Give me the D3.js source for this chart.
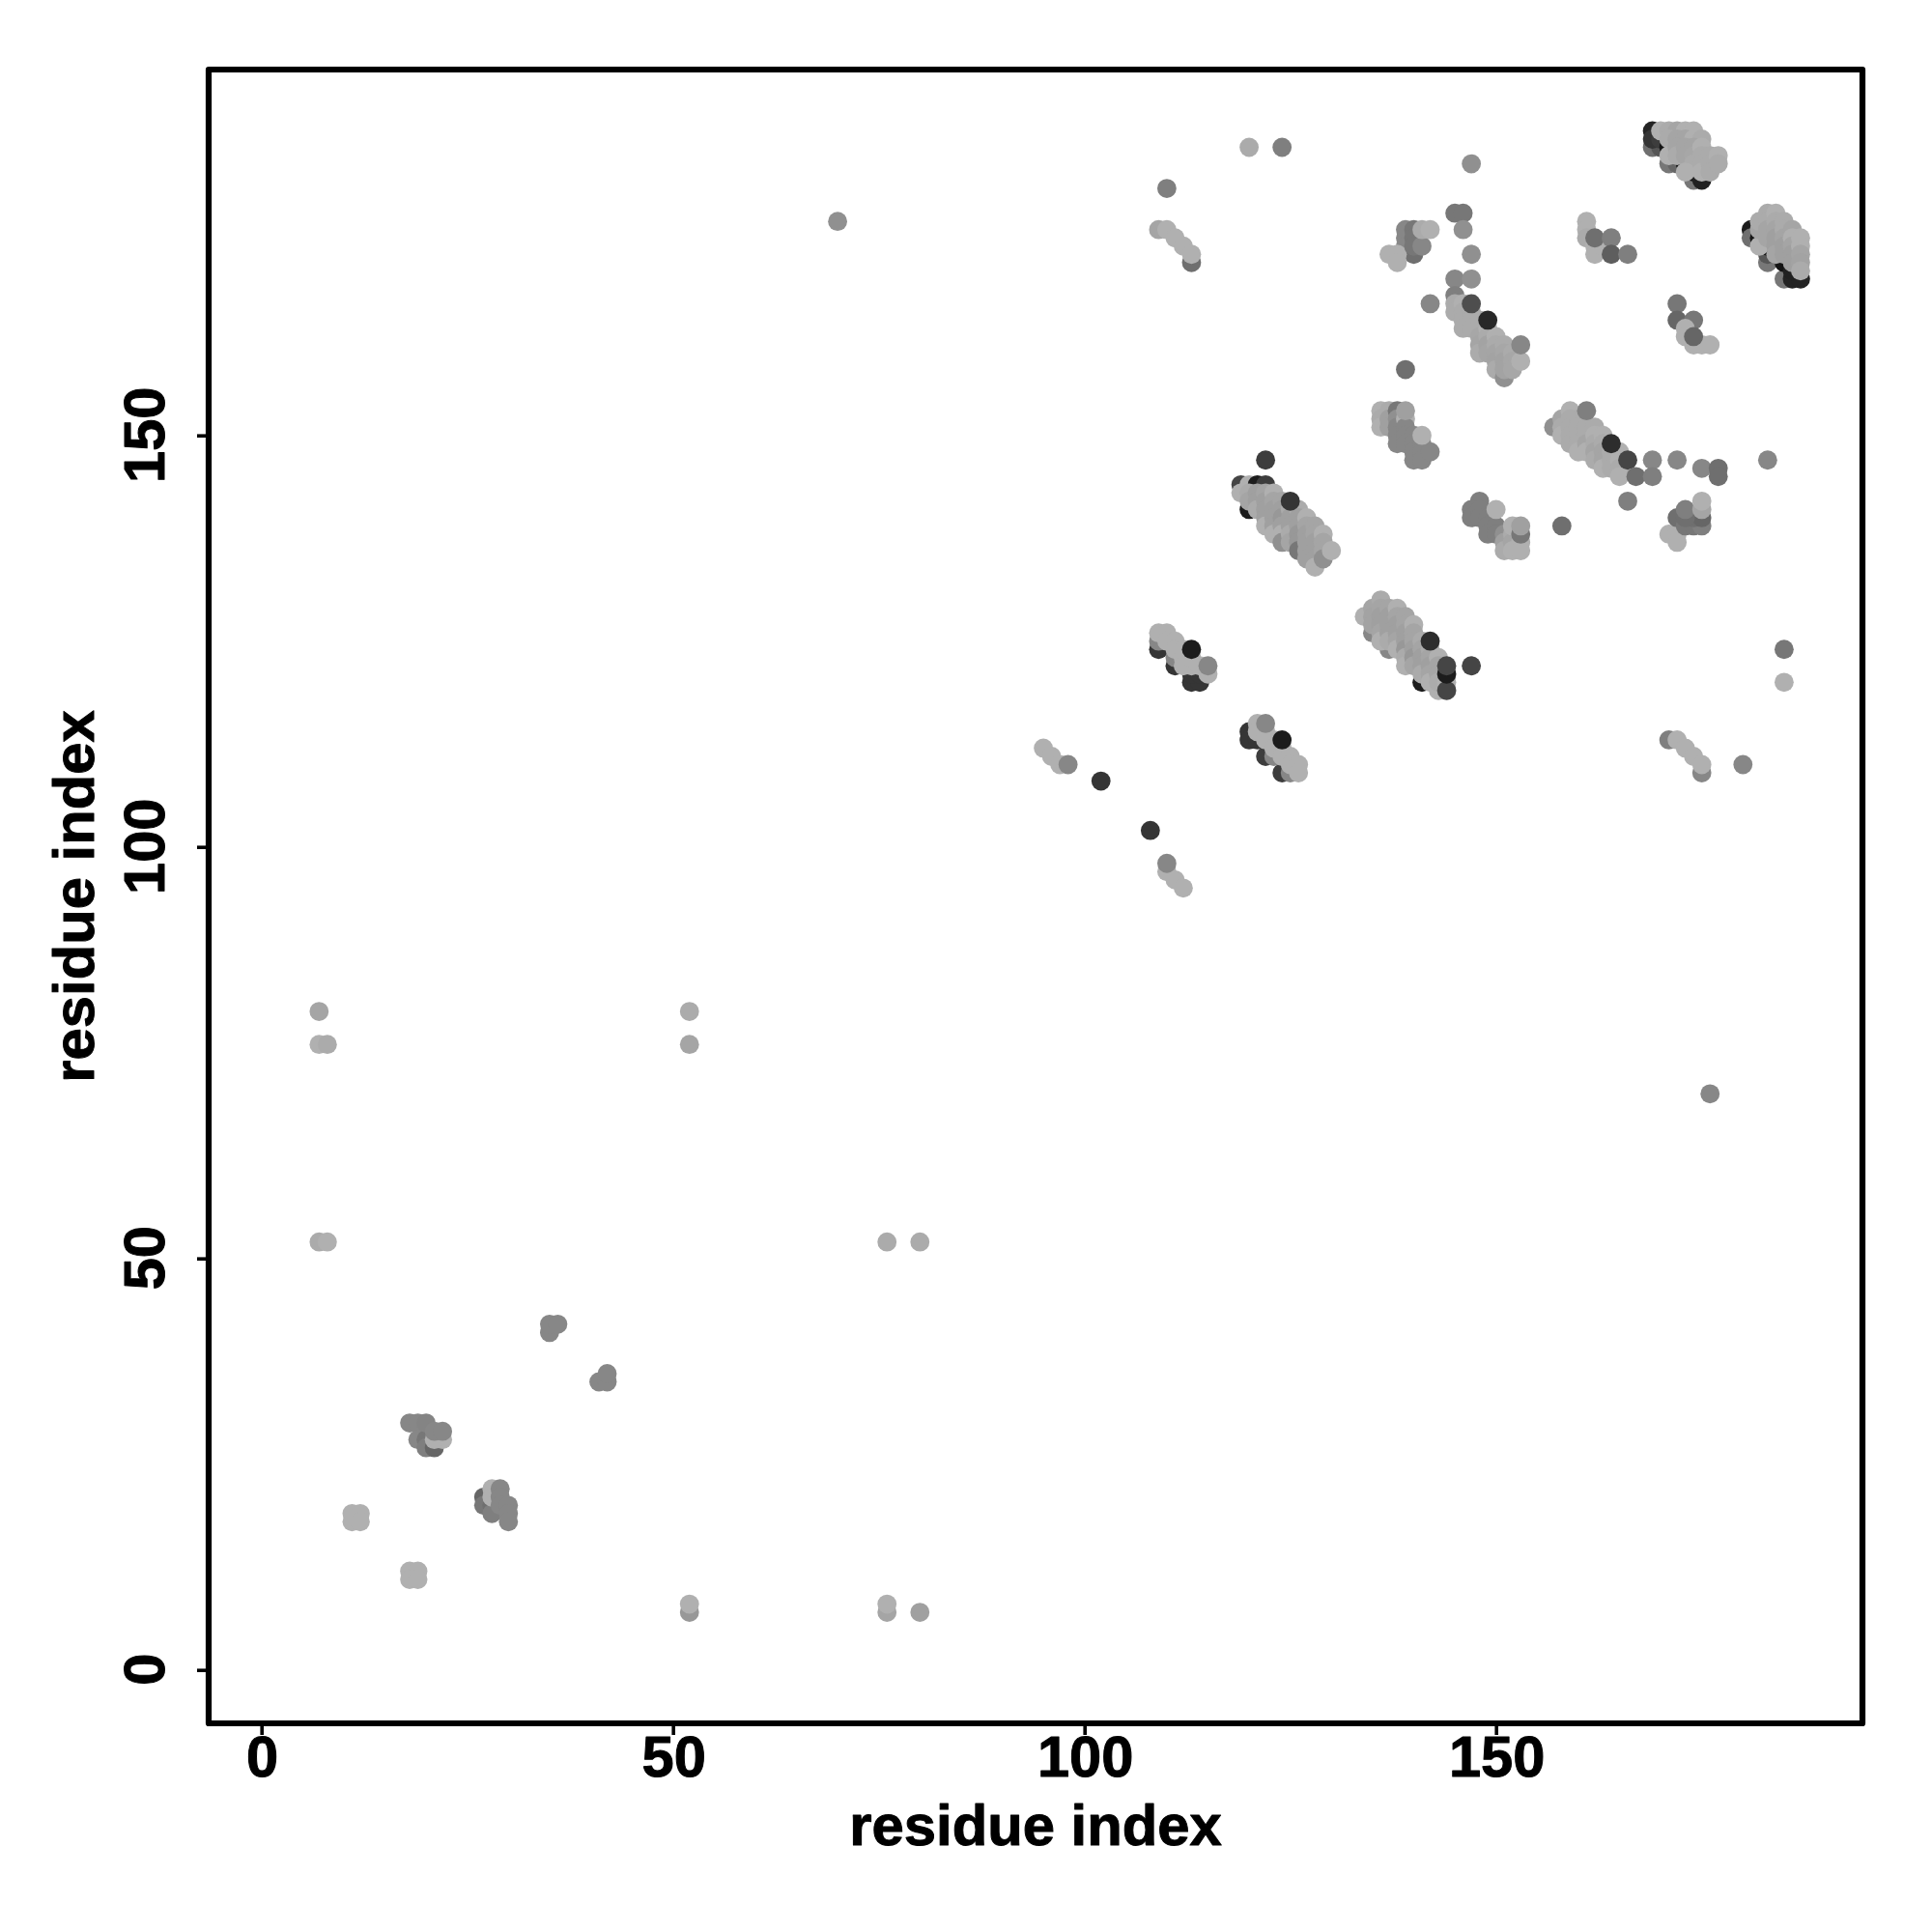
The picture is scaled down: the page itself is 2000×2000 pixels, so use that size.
<!DOCTYPE html>
<html><head><meta charset="utf-8">
<script src="https://cdn.jsdelivr.net/npm/d3@7"></script>
<style>html,body{margin:0;padding:0;background:#fff}svg{display:block}</style>
</head><body><div id="chart"></div>
<script>
// each contact: [residue index i, residue index j, shade score 0 (black) .. 1 (light)]
const tickValues=[0,50,100,150];
const axisTitle="residue index";
const lowerIsolated=[[7,80,.9],[7,76,1],[8,76,.95],[52,80,.95],[52,76,.9],[7,52,.95],[8,52,1],[76,52,.95],[80,52,.95],[52,7,.8],[52,8,1],[76,7,.9],[76,8,1],[80,7,.85]];
const lowerCluster1=[[35,41,.7],[35,42,.7],[36,42,.7],[41,35,.7],[42,35,.7],[42,36,.7]];
const lowerCluster2=[[18,30,.7],[19,30,.7],[20,29,.7],[19,28,.7],[20,28,.6],[20,27,.65],[21,27,.5],[22,28,1],[21,28,1],[20,30,.68],[21,29,.7],[22,29,.7]];
const lowerCluster3=[[27,21,.5],[27,20,.6],[28,20,.55],[28,19,.65],[28,22,1],[28,21,1],[29,22,.7],[29,21,.7],[29,20,.7],[30,20,.7],[30,19,.7],[30,18,.7]];
const lowerSquares=[[11,19,1],[12,19,1],[11,18,1],[12,18,1],[18,12,1],[19,12,1],[18,11,1],[19,11,1]];
const midIsolated=[[70,176,.75],[120,185,.95],[124,185,.65],[147,183,.75],[110,180,.65],[102,108,.2],[108,102,.2],[176,70,.7],[185,124,.6],[185,120,1],[180,110,.7]];
const strand109=[[113,171,.55],[109,175,.9],[110,175,1],[111,174,1],[112,173,1],[113,172,1]];
const strand95=[[95,112,1],[96,111,1],[97,110,1],[98,110,.7]];
const strand110=[[110,97,1],[111,96,1],[112,95,1],[110,98,.7]];
const strand171=[[171,113,.65],[172,113,1],[173,112,1],[174,111,1],[175,109,.7],[175,110,1]];
const clusterA=[[109,124,.2],[111,122,.2],[113,120,.2],[114,120,.2],[113,121,.2],[114,121,.2],[109,125,.7],[111,123,.7],[109,126,1],[110,126,1],[110,125,1],[111,125,1],[111,124,1],[112,124,1],[112,123,1],[112,122,1],[113,122,1],[113,123,1],[114,122,1],[115,121,1],[113,124,.05],[115,122,.7]];
const clusterB=[[120,114,.2],[120,113,.2],[121,113,.2],[122,111,.25],[124,109,.25],[123,111,.7],[125,109,.7],[121,115,1],[121,114,1],[122,114,1],[122,113,1],[123,113,1],[123,112,1],[124,112,1],[124,111,1],[125,111,1],[125,110,1],[126,110,1],[126,109,1],[122,115,.7],[124,113,.05]];
const clusterC=[[135,126,.7],[137,124,.7],[141,120,.05],[143,119,1],[134,128,1],[135,129,.9],[135,128,.88],[135,127,.88],[136,130,.95],[136,129,.9],[136,128,.85],[136,127,.85],[136,126,.9],[136,125,1],[137,129,.9],[137,128,.85],[137,127,.85],[137,126,.85],[137,125,.95],[138,129,1],[138,128,.9],[138,127,.85],[138,126,.85],[138,125,.9],[138,124,1],[139,128,.9],[139,127,.9],[139,126,.85],[139,125,.85],[139,124,.8],[139,123,.95],[139,122,1],[140,127,1],[140,126,.9],[140,125,.9],[140,124,.85],[140,123,.8],[140,122,.9],[141,125,.95],[141,124,.9],[141,123,.85],[141,122,.85],[141,121,.95],[142,124,.95],[142,123,.9],[142,122,.85],[142,121,.9],[142,120,1],[143,123,1],[143,122,.9],[143,121,.9],[143,120,.95],[144,120,1],[144,119,.3],[144,121,.05],[144,122,.3],[142,125,.15],[147,122,.3]];
const clusterD=[[120,141,.05],[119,144,.3],[119,143,1],[120,144,1],[121,144,.05],[122,144,.25],[122,147,.25],[120,143,.95],[120,142,.9],[121,143,.85],[121,142,.85],[121,141,.95],[122,143,.9],[122,142,.85],[122,141,.85],[122,140,.85],[122,139,1],[123,143,1],[123,142,.9],[123,141,.85],[123,140,.85],[123,139,.85],[123,138,1],[124,142,.9],[124,141,.85],[124,140,.8],[124,139,.85],[124,138,1],[124,137,.75],[125,141,.95],[125,140,.85],[125,139,.85],[125,138,.95],[125,137,.9],[126,141,.95],[126,140,.85],[126,139,.85],[126,138,.8],[126,137,.8],[126,136,.6],[127,140,1],[127,139,.9],[127,138,.85],[127,137,.85],[127,136,.85],[127,135,.85],[128,139,.9],[128,138,.9],[128,137,.85],[128,136,.85],[128,135,.85],[128,134,1],[129,138,1],[129,137,.9],[129,136,.9],[129,135,.75],[130,136,1],[125,142,.2]];
const clusterE=[[136,153,1],[136,152,.95],[136,151,1],[137,153,.95],[137,152,.85],[137,151,.85],[138,153,.6],[138,152,.75],[138,151,.7],[138,150,.7],[138,149,.7],[139,152,1],[139,151,.7],[139,150,.7],[139,149,.7],[140,150,.7],[140,149,.7],[140,148,.7],[140,147,.7],[141,149,.7],[141,148,.7],[141,147,.7],[142,148,.7],[139,153,.85],[141,150,1]];
const clusterF=[[148,142,.65],[147,141,.65],[147,140,.65],[148,141,.65],[148,140,.65],[149,140,.65],[149,139,.65],[149,138,.65],[150,139,.65],[150,138,.65],[151,138,.75],[151,137,.85],[151,136,.95],[152,138,.95],[152,137,.9],[152,136,1],[150,141,1],[152,139,1],[153,137,1],[153,136,1],[153,138,.6],[153,139,.85]];
const clusterG=[[158,139,.55],[157,151,.75],[158,152,.9],[158,151,.95],[158,150,1],[159,153,1],[159,152,.95],[159,151,.95],[159,150,.95],[159,149,.95],[160,152,.95],[160,151,.95],[160,150,.95],[160,149,.95],[160,148,1],[161,151,.95],[161,150,.95],[161,149,.9],[161,148,1],[162,151,.95],[162,150,1],[162,149,.95],[162,148,.9],[162,147,.95],[163,150,1],[163,149,.95],[163,148,.9],[163,147,.9],[163,146,1],[164,148,.95],[164,147,.95],[164,146,.95],[165,148,1],[165,147,1],[165,146,.95],[165,145,1],[161,153,.65],[164,149,.15],[166,147,.3],[167,145,.55],[169,147,.7],[169,145,.65],[172,147,.7],[175,146,.7],[177,146,.55],[177,145,.55],[183,147,.7],[166,142,.65]];
const clusterH=[[171,138,1],[172,138,1],[172,137,1],[172,140,.55],[173,139,.6],[174,139,.6],[175,139,.65],[174,140,.55],[175,140,.5],[173,140,.55],[173,141,.65],[175,141,.9],[175,142,1]];
const clusterI=[[142,166,.7],[139,158,.55],[145,169,.7],[147,169,.75],[145,167,.65],[145,177,.6],[146,177,.6],[146,175,.75],[147,172,.75],[145,166,.95],[145,165,.95],[146,166,1],[146,165,.95],[146,164,.95],[146,163,.95],[147,165,.95],[147,164,.95],[147,163,.95],[148,164,.95],[148,163,.95],[148,162,.92],[148,161,.9],[148,160,.95],[149,163,1],[149,162,.95],[149,161,.88],[149,160,.9],[150,162,1],[150,161,.95],[150,160,.9],[150,159,.88],[150,158,.95],[151,157,.75],[151,161,.95],[151,160,.92],[151,159,.88],[151,158,.88],[152,160,.95],[152,159,.92],[152,158,.92],[153,159,1],[147,166,.35],[149,164,.12],[153,161,.7]];
const clusterJ=[[139,174,.7],[139,175,.7],[139,173,.7],[140,172,.55],[137,172,1],[138,172,1],[138,171,1],[140,175,.6],[140,174,.6],[140,173,.6],[141,173,.7],[141,175,.95],[142,175,1]];
const clusterK=[[161,176,1],[161,175,1],[161,174,.95],[162,173,1],[162,172,1],[163,173,1],[162,174,.55],[164,174,.65],[164,172,.45],[166,172,.65]];
const clusterL=[[172,166,.6],[172,164,.5],[174,164,.6],[173,163,1],[173,162,1],[174,161,1],[175,161,1],[176,161,1],[174,162,.5]];
const clusterM=[[169,185,.55],[170,185,.4],[171,183,.6],[172,183,.5],[174,181,.6],[169,187,.1],[169,186,.2],[170,186,.25],[171,185,.0],[173,183,.0],[174,182,.0],[175,181,.08],[170,187,1],[171,187,.95],[172,187,.9],[173,187,1],[174,187,1],[171,186,.95],[172,186,.9],[173,186,.9],[174,186,1],[175,186,.95],[171,184,1],[172,185,.9],[172,184,.95],[173,185,.9],[173,184,.9],[174,185,.9],[174,184,.92],[174,183,.95],[173,182,1],[175,185,1],[175,184,.95],[175,183,.95],[175,182,1],[176,184,.95],[176,183,.95],[176,182,.95],[177,184,1],[177,183,.95]];
const clusterN=[[181,175,.05],[181,174,.55],[182,174,.02],[183,171,.6],[183,172,.4],[185,169,.6],[186,169,.1],[187,169,.1],[183,173,.02],[185,171,.0],[186,170,.08],[182,173,1],[182,175,.9],[182,176,.95],[183,177,.95],[183,176,.95],[183,175,.9],[183,174,.9],[184,177,1],[184,176,.95],[184,175,.9],[184,174,.85],[184,173,.85],[184,172,.9],[185,176,.95],[185,175,.95],[185,174,.9],[185,173,.85],[185,172,.85],[186,175,.9],[186,174,1],[186,173,.9],[186,172,.85],[186,171,.85],[187,174,1],[187,173,1],[187,172,.9],[187,171,.88],[187,170,.95]];

const contacts=d3.merge([clusterM,clusterN,clusterG,clusterI,clusterD,clusterC,clusterE,clusterF,clusterH,clusterJ,clusterK,clusterL,clusterA,clusterB,strand95,strand110,strand171,strand109,midIsolated,lowerIsolated,lowerCluster1,lowerCluster2,lowerCluster3,lowerSquares]);

const W=2000,H=2000,frameL=216,frameR=1928,frameT=72,frameB=1784;
const x=d3.scaleLinear().domain([-6.42,194.52]).range([frameL,frameR]);
const y=d3.scaleLinear().domain([-6.49,194.45]).range([frameB,frameT]);
const shade=d3.scaleLinear().domain([0,.85,1]).range(["#141414","#a0a0a0","#b0b0b0"]);

const svg=d3.select("#chart").append("svg").attr("width",W).attr("height",H).attr("viewBox",`0 0 ${W} ${H}`)
  .style("font-family","'Liberation Sans',Arial,sans-serif").style("font-weight","bold")
  .style("stroke-linejoin","round");

svg.append("g").selectAll("circle").data(contacts).join("circle")
  .attr("cx",d=>x(d[0])).attr("cy",d=>y(d[1])).attr("r",9.9).attr("fill",d=>shade(d[2]));

const gx=svg.append("g").attr("transform",`translate(0,${frameB})`)
  .call(d3.axisBottom(x).tickValues(tickValues).tickSize(12).tickFormat(d3.format("d")));
const gy=svg.append("g").attr("transform",`translate(${frameL},0)`)
  .call(d3.axisLeft(y).tickValues(tickValues).tickSize(12).tickFormat(d3.format("d")));
[gx,gy].forEach(g=>{g.attr("font-family",null).attr("font-size",null);g.select(".domain").remove();g.selectAll("line").attr("stroke","#000").attr("stroke-width",3.6);});
gx.selectAll("text").attr("font-size",59.6).attr("fill","#000").attr("stroke","#000").attr("stroke-width",1).attr("y",null).attr("dy",null)
  .attr("text-anchor","middle").attr("transform","translate(0.5,55)");
gy.selectAll("text").attr("font-size",59.6).attr("fill","#000").attr("stroke","#000").attr("stroke-width",1).attr("x",null).attr("dy",null)
  .attr("text-anchor","middle").attr("transform","translate(-46,-1) rotate(-90)");

svg.append("rect").attr("x",frameL).attr("y",frameT).attr("width",frameR-frameL).attr("height",frameB-frameT)
  .attr("fill","none").attr("stroke","#000").attr("stroke-width",6.2);

svg.append("text").attr("x",(frameL+frameR)/2).attr("y",1910).attr("text-anchor","middle").attr("font-size",59.8).attr("stroke","#000").attr("stroke-width",1).text(axisTitle);
svg.append("text").attr("transform",`translate(97,${(frameT+frameB)/2}) rotate(-90)`).attr("text-anchor","middle").attr("font-size",59.8).attr("stroke","#000").attr("stroke-width",1).text(axisTitle);
</script></body></html>
